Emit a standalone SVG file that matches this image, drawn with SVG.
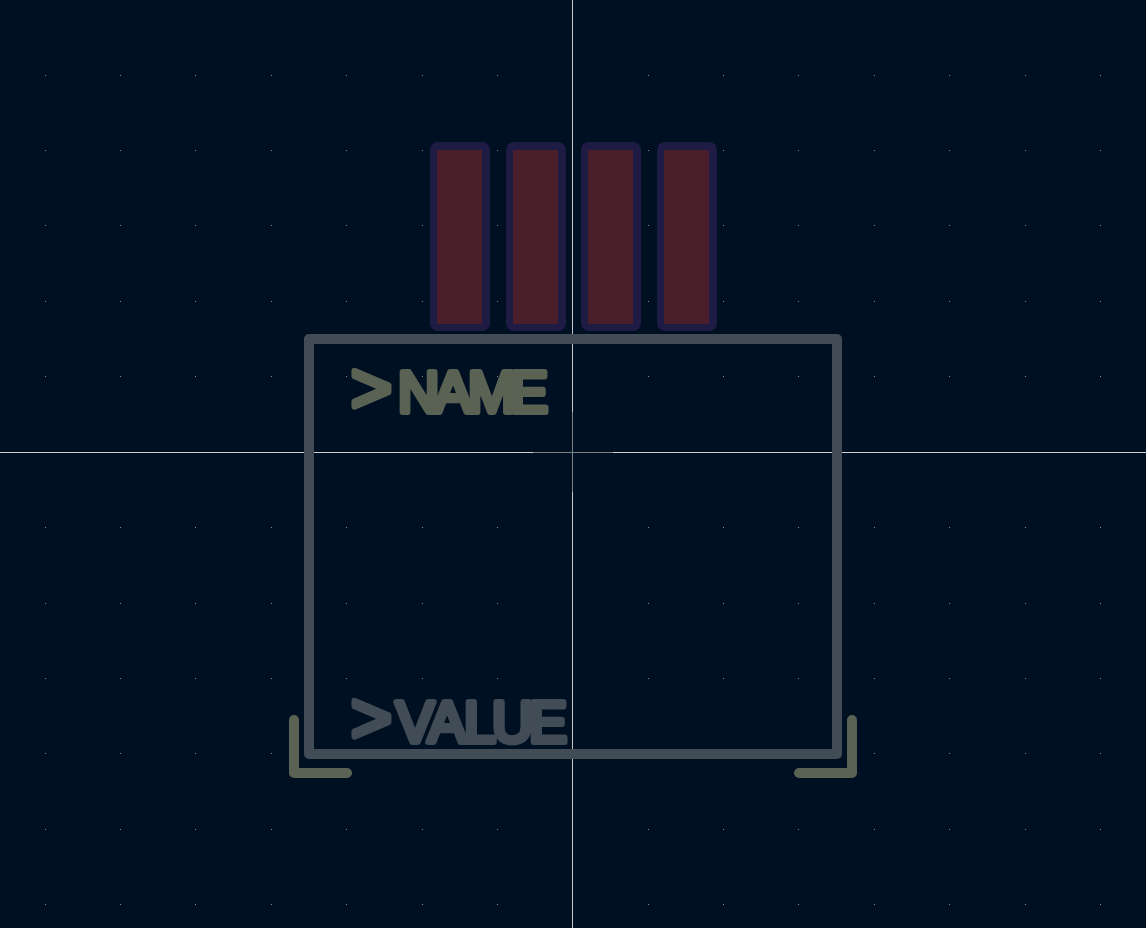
<svg xmlns="http://www.w3.org/2000/svg" width="1146" height="928" viewBox="0 0 1146 928">
<style>
.pad-o{fill:#1e1c44}
.pad-i{fill:#4a1e2a}
.fab{fill:none;stroke:#424c57;stroke-width:10;stroke-linejoin:round;stroke-linecap:round}
.crt{fill:none;stroke:#5a6353;stroke-width:10;stroke-linejoin:round;stroke-linecap:round}
.lbl{font-family:"Liberation Sans Narrow","Liberation Sans",Arial,sans-serif;font-size:57px;stroke-width:6;stroke-linejoin:round;stroke-linecap:round}
</style>
<rect width="1146" height="928" fill="#001023"/>
<defs>
<path id="row" fill="#85888c" d="M45 0h1v1h-1zM120 0h1v1h-1zM195 0h1v1h-1zM271 0h1v1h-1zM346 0h1v1h-1zM422 0h1v1h-1zM497 0h1v1h-1zM648 0h1v1h-1zM723 0h1v1h-1zM798 0h1v1h-1zM874 0h1v1h-1zM949 0h1v1h-1zM1025 0h1v1h-1zM1100 0h1v1h-1z"/>
</defs>
<g id="grid">
<use href="#row" y="75"/><use href="#row" y="150"/><use href="#row" y="225"/><use href="#row" y="301"/><use href="#row" y="376"/><use href="#row" y="527"/><use href="#row" y="603"/><use href="#row" y="678"/><use href="#row" y="753"/><use href="#row" y="829"/><use href="#row" y="904"/>
</g>
<g id="crosshair">
<rect x="572" y="0" width="1" height="928" fill="#c8c8c8"/>
<rect x="0" y="452" width="1146" height="1" fill="#d0d0d0"/>
<rect x="572" y="412" width="1" height="80" fill="#808488"/>
<rect x="533" y="452" width="80" height="1" fill="#808488"/>
</g>
<g id="pad1"><rect class="pad-o" x="430" y="142" width="60" height="189" rx="8"/><rect class="pad-i" x="437" y="150" width="45" height="174"/></g>
<g id="pad2"><rect class="pad-o" x="506" y="142" width="60" height="189" rx="8"/><rect class="pad-i" x="513" y="150" width="45" height="174"/></g>
<g id="pad3"><rect class="pad-o" x="581" y="142" width="60" height="189" rx="8"/><rect class="pad-i" x="588" y="150" width="45" height="174"/></g>
<g id="pad4"><rect class="pad-o" x="657" y="142" width="60" height="189" rx="8"/><rect class="pad-i" x="664" y="150" width="45" height="174"/></g>
<g id="fab"><rect class="fab" x="309" y="339" width="528" height="415"/></g>
<g id="courtyard"><path class="crt" d="M294 720V773H347"/><path class="crt" d="M852 720V773H799"/></g>
<g id="name"><text class="lbl" fill="#5a6353" stroke="#5a6353" y="412"><tspan x="351" font-size="70">&gt;</tspan><tspan x="398 434 468 510">NAME</tspan></text></g>
<g id="value"><text class="lbl" fill="#424c57" stroke="#424c57" y="742"><tspan x="351" font-size="70">&gt;</tspan><tspan x="396 428 464 492 529">VALUE</tspan></text></g>
</svg>
